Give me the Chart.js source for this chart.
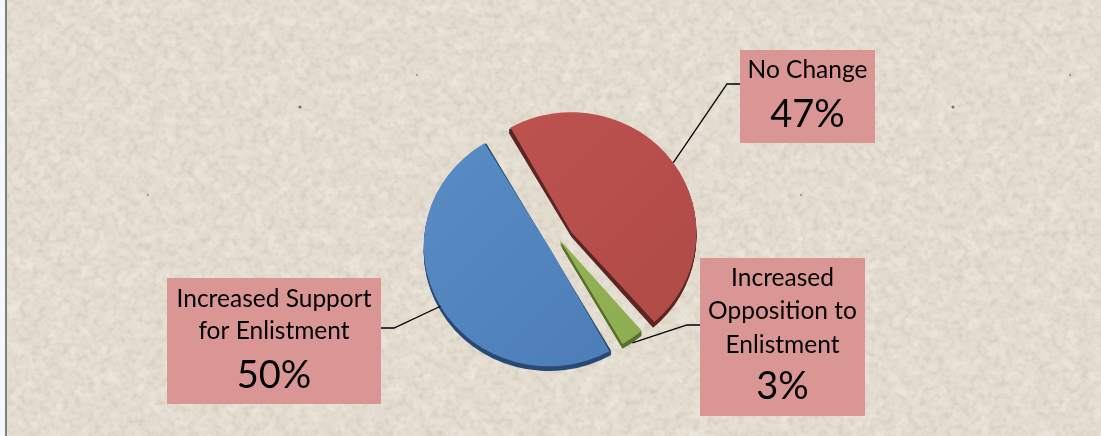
<!DOCTYPE html>
<html>
<head>
<meta charset="utf-8">
<title>Enlistment</title>
<script src="https://cdn.jsdelivr.net/npm/chart.js@4/dist/chart.umd.min.js"></script>
<style>
html, body { margin: 0; padding: 0; background: #f5f7fc; overflow: hidden; }
#wrap { position: relative; width: 1101px; height: 436px; }
#paper {
    position: absolute; left: 5px; top: 0; width: 1096px; height: 436px;
    box-sizing: border-box; border-left: 2px solid #7f7f7f;
    background-color: #e3dccf;
}
#paper svg { position: absolute; left: 0; top: 0; }
canvas { position: absolute; left: 0; top: 0; }
</style>
</head>
<body>
<div id="wrap">
    <div id="paper">
        <svg width="1094" height="436">
            <filter id="grain" x="0" y="0" width="100%" height="100%">
                <feTurbulence type="fractalNoise" baseFrequency="0.16" numOctaves="3" seed="7"/>
                <feColorMatrix type="matrix" values="0 0 0 0 0.50  0 0 0 0 0.45  0 0 0 0 0.37  0.8 0 0 0 -0.34"/>
            </filter>
            <filter id="light" x="0" y="0" width="100%" height="100%">
                <feTurbulence type="fractalNoise" baseFrequency="0.07" numOctaves="2" seed="21"/>
                <feColorMatrix type="matrix" values="0 0 0 0 0.95  0 0 0 0 0.93  0 0 0 0 0.89  0.9 0 0 0 -0.36"/>
            </filter>
            <rect width="1094" height="436" filter="url(#light)"/>
            <rect width="1094" height="436" filter="url(#grain)"/>
            <g fill="#7a7264">
                <circle cx="293" cy="107" r="1.6"/><circle cx="946" cy="107" r="1.6"/>
                <g opacity="0.55">
                    <circle cx="141" cy="195" r="1.2"/><circle cx="794" cy="195" r="1.2"/>
                    <circle cx="1063" cy="75" r="1.2"/><circle cx="410" cy="75" r="1.2"/>
                </g>
            </g>
        </svg>
    </div>
    <canvas id="chart" width="1101" height="436"></canvas>
</div>
<script>
const categories = ['No Change', 'Increased Opposition to Enlistment', 'Increased Support for Enlistment'];
const values = [47, 3, 50];
const percentLabels = ['47%', '3%', '50%'];

const lightColors = ['#bf5350', '#97b757', '#5a8cc5'];
const mainColors = ['#ae4a47', '#8cac50', '#4a7bb6'];
const sideColors = ['#5c2523', '#566f2b', '#274a75'];
const sliceOffsets = [14, 0, 13];

// boxes around the labels, lines are broken up by hand like in the picture
const boxes = [
    { x: 740, y: 50, w: 135, h: 93, side: 'left', elbow: 84,
      lines: ['No Change'], base: [78], pctBase: 127 },
    { x: 700, y: 258, w: 165, h: 158, side: 'left', elbow: 325,
      lines: ['Increased', 'Opposition to', 'Enlistment'], base: [286, 319, 353], pctBase: 399 },
    { x: 167, y: 278, w: 214, h: 126, side: 'right', elbow: 328,
      lines: ['Increased Support', 'for Enlistment'], base: [307, 339], pctBase: 388 }
];

const pieRadius = 125;
const squash = 0.96;
const depth = 5;

function midPoint(arc, offset) {
    const mid = (arc.startAngle + arc.endAngle) / 2;
    return { x: arc.x + Math.cos(mid) * offset, y: arc.y + Math.sin(mid) * offset, mid: mid };
}

function flatten(chart) {
    const a = chart.getDatasetMeta(0).data[0];
    const ctx = chart.ctx;
    ctx.translate(a.x, a.y);
    ctx.scale(1, squash);
    ctx.translate(-a.x, -a.y);
}

const pie3d = {
    id: 'pie3d',
    beforeDatasetsDraw(chart) {
        const ctx = chart.ctx;
        ctx.save();
        flatten(chart);
        chart.getDatasetMeta(0).data.forEach(function (arc, i) {
            // the arc element grows its radius with the offset, take that back
            const fix = 1 - Math.sin(Math.min(Math.PI, arc.circumference));
            arc.outerRadius = pieRadius - sliceOffsets[i] * fix;
            // dark copy of each slice, pushed down, gives the thickness
            const p = midPoint(arc, sliceOffsets[i]);
            ctx.fillStyle = sideColors[i];
            for (let d = 1; d <= depth; d++) {
                ctx.beginPath();
                ctx.moveTo(p.x, p.y + d);
                ctx.arc(p.x, p.y + d, pieRadius, arc.startAngle, arc.endAngle);
                ctx.closePath();
                ctx.fill();
            }
        });
        // left open, afterDatasetsDraw restores it, so slices get flattened too
    },
    afterDatasetsDraw(chart) {
        const ctx = chart.ctx;
        ctx.restore();
        chart.getDatasetMeta(0).data.forEach(function (arc, i) {
            const b = boxes[i];
            const mid = (arc.startAngle + arc.endAngle) / 2;
            const r = pieRadius + sliceOffsets[i];
            const sx = arc.x + Math.cos(mid) * r;
            const sy = arc.y + Math.sin(mid) * r * squash + (i === 1 ? depth : 0);
            const edge = b.side === 'left' ? b.x : b.x + b.w;
            const knee = b.side === 'left' ? edge - 13 : edge + 13;
            ctx.strokeStyle = '#000';
            ctx.lineWidth = 1.3;
            ctx.beginPath();
            ctx.moveTo(sx, sy);
            ctx.lineTo(knee, b.elbow);
            ctx.lineTo(edge, b.elbow);
            ctx.stroke();

            ctx.fillStyle = '#da9694';
            ctx.fillRect(b.x, b.y, b.w, b.h);
            ctx.fillStyle = '#000';
            ctx.textAlign = 'center';
            ctx.textBaseline = 'alphabetic';
            ctx.font = '24.5px Lato';
            b.lines.forEach(function (t, k) {
                ctx.fillText(t, b.x + b.w / 2, b.base[k]);
            });
            ctx.font = '38px Lato';
            ctx.fillText(percentLabels[i], b.x + b.w / 2, b.pctBase);
        });
    }
};

function sliceFill(context) {
    const i = context.dataIndex;
    const g = context.chart.ctx.createLinearGradient(430, 120, 690, 370);
    g.addColorStop(0, lightColors[i]);
    g.addColorStop(1, mainColors[i]);
    return g;
}

new Chart(document.getElementById('chart').getContext('2d'), {
    type: 'pie',
    data: {
        labels: categories,
        datasets: [{
            data: values,
            backgroundColor: sliceFill,
            borderWidth: 0,
            // the arc element only moves a slice by a quarter of this
            offset: sliceOffsets.map(function (o) { return o * 4; })
        }]
    },
    options: {
        responsive: false,
        animation: false,
        rotation: -30,
        radius: pieRadius,
        layout: { padding: { left: 19, top: 44 } },
        plugins: { legend: { display: false }, tooltip: { enabled: false } }
    },
    plugins: [pie3d]
});
</script>
</body>
</html>
